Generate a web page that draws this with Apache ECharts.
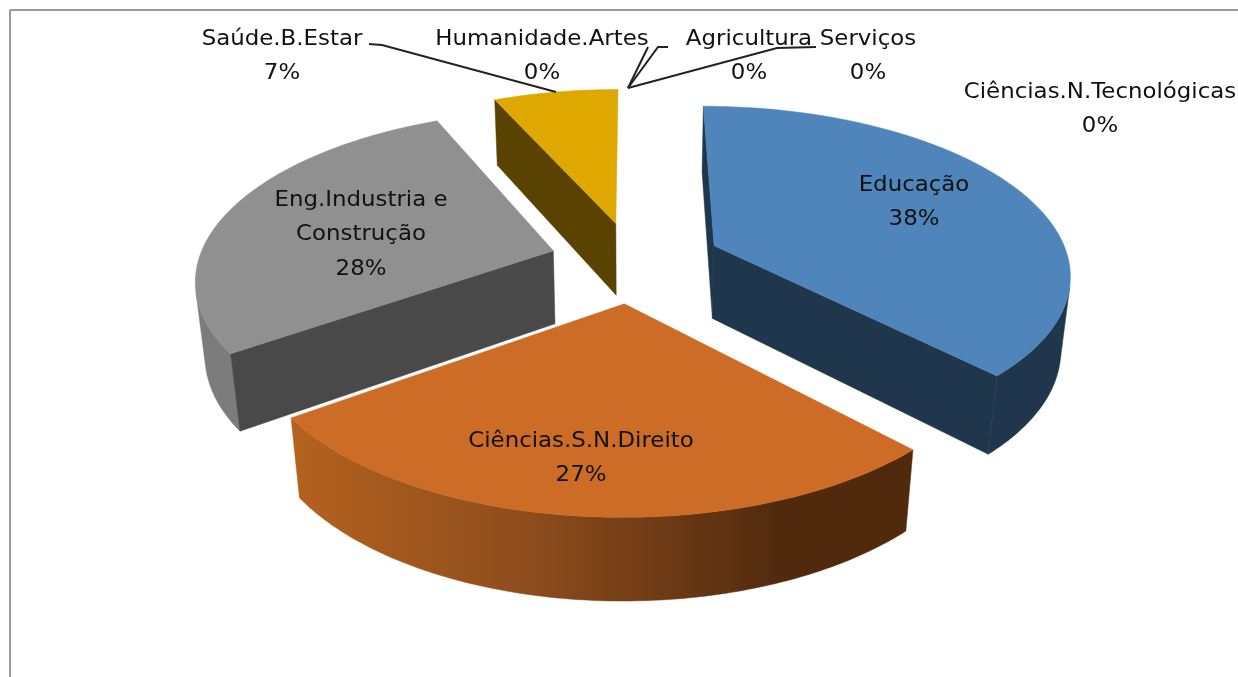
<!DOCTYPE html>
<html>
<head>
<meta charset="utf-8">
<style>html,body{margin:0;padding:0;background:#fff}#c{width:1238px;height:677px}</style>
<script src="https://cdn.jsdelivr.net/npm/echarts@6/dist/echarts.min.js"></script>
</head>
<body>
<div id="c"></div>
<script>
// data
var categories = ['Educação','Ciências.S.N.Direito','Eng.Industria e\nConstrução','Saúde.B.Estar','Humanidade.Artes','Agricultura','Serviços','Ciências.N.Tecnológicas'];
var shares = [37.8,27.4,28.1,6.7,0,0,0,0];
var explosion = [0.25,0.25,0.235,0.24,0,0,0,0];
// appearance per slice
var topColors = ['#4f85ba','#cc6c27','#909090','#dfa800'];
var cutColors = ['#20364d','#b5621f','#494949','#5a4200'];
var arcColors = ['#20364d',null,'#7c7c7c','#5a4200'];
// label layout (centre x, first line y)
var labelX = [914,581,361,282,542,749,868,1100];
var labelY = [185,441,200,39,39,39,39,92];
var leaderPaths = [null,null,null,
  [[369,44],[382,45],[556,92]],
  [[648,47],[628,88]],
  [[668,47],[658,47],[628,88]],
  [[816,47],[777,48],[628,88]],
  null];
// projection parameters
var G = {cx:633, cy:261, R:355, T:165.5, k:0.155, m:0.022, D:75};
var FONT = '22px "DejaVu Sans"', LH = 34.5, TEXT_STRETCH = 1.04, MIN_FACE = 500;

function project(X, Y, bottom){
  var w = 1/(1 + G.k*Y + (bottom ? G.m : 0));
  return [G.cx + G.R*X*w, G.cy - G.T*Y*w + (bottom ? G.D*w : 0)];
}
function area(p){
  var s=0; for (var i=0;i<p.length;i++){var q=p[(i+1)%p.length]; s+=p[i][0]*q[1]-q[0]*p[i][1];}
  return s;
}
var total = shares.reduce(function(a,b){return a+b;},0);
function renderItem(params, api){
  var idx = params.dataIndex, val = api.value(0), children = [];
  var before = 0; for (var i=0;i<idx;i++) before += shares[i];
  if (val > 0){
    var a0 = before/total*2*Math.PI, a1 = (before+val)/total*2*Math.PI, mid=(a0+a1)/2;
    var e = explosion[idx], ox = e*Math.sin(mid), oy = e*Math.cos(mid);
    var n = Math.max(2, Math.ceil((a1-a0)/(Math.PI/180)));
    var topArc=[], botArc=[];
    for (var j=0;j<=n;j++){
      var a=a0+(a1-a0)*j/n, X=ox+Math.sin(a), Y=oy+Math.cos(a);
      topArc.push(project(X,Y,false)); botArc.push(project(X,Y,true));
    }
    var aT=project(ox,oy,false), aB=project(ox,oy,true);
    var arcFill = arcColors[idx] || {type:'linear',x:290,y:0,x2:780,y2:0,global:true,
      colorStops:[{offset:0,color:'#b5621f'},{offset:0.5,color:'#8c4c1c'},{offset:1,color:'#512a0e'}]};
    var poly = function(pts,fill){children.push({type:'polygon',shape:{points:pts},style:{fill:fill,stroke:fill,lineWidth:0.5}});};
    // outer rim: only the stretch that faces the viewer
    var visT=[], visB=[];
    for (var s=0;s<n;s++){
      if (area([topArc[s],topArc[s+1],botArc[s+1],botArc[s]])<0){
        if (!visT.length){visT.push(topArc[s]);visB.push(botArc[s]);}
        visT.push(topArc[s+1]);visB.push(botArc[s+1]);
      }
    }
    if (visT.length) poly(visT.concat(visB.reverse()), arcFill);
    var startFace=[aT,topArc[0],botArc[0],aB], endFace=[aT,topArc[n],botArc[n],aB];
    if (area(startFace)<-MIN_FACE) poly(startFace, cutColors[idx]);
    if (area(endFace)>MIN_FACE) poly(endFace, cutColors[idx]);
    poly([aT].concat(topArc), topColors[idx]);
  }
  if (leaderPaths[idx]) children.push({type:'polyline',shape:{points:leaderPaths[idx]},style:{fill:null,stroke:'#222',lineWidth:2}});
  var lines = categories[idx].split('\n').concat([Math.round(val/total*100)+'%']);
  lines.forEach(function(t,li){
    children.push({type:'text',x:labelX[idx],y:labelY[idx]+li*LH,scaleX:TEXT_STRETCH,
      style:{text:t,x:0,y:0,align:'center',verticalAlign:'middle',font:FONT,fill:'#111'}});
  });
  return {type:'group',children:children};
}
var chart = echarts.init(document.getElementById('c'),null,{renderer:'canvas'});
chart.setOption({
  animation:false,
  backgroundColor:'#fff',
  graphic:[
    {type:'line',shape:{x1:10,y1:10,x2:1238,y2:10},style:{stroke:'#9a9a9a',lineWidth:2}},
    {type:'line',shape:{x1:10,y1:10,x2:10,y2:677},style:{stroke:'#9a9a9a',lineWidth:2}}
  ],
  series:[{type:'custom',coordinateSystem:'none',renderItem:renderItem,
    data:shares.map(function(v,i){return {name:categories[i],value:[v]};})}]
});
</script>
</body>
</html>
